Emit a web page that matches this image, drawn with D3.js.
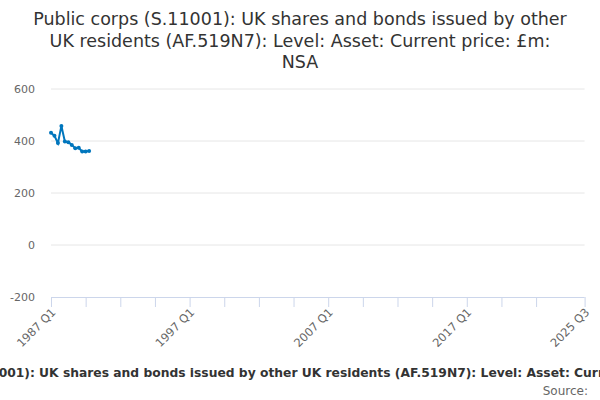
<!DOCTYPE html>
<html><head><meta charset="utf-8">
<script src="https://cdn.jsdelivr.net/npm/d3@7"></script>
<style>body{margin:0;background:#fff}svg{display:block;font-family:"DejaVu Sans",sans-serif}</style>
</head><body><svg id="c" width="600" height="400"></svg>
<script>
const titleLines = ["Public corps (S.11001): UK shares and bonds issued by other","UK residents (AF.519N7): Level: Asset: Current price: £m:","NSA"];
const subtitle = "Public corps (S.11001): UK shares and bonds issued by other UK residents (AF.519N7): Level: Asset: Current price: £m: NSA";
const sourceText = "Source:";
// all quarters 1987 Q1 .. 2025 Q3
const quarters = [];
for (let y = 1987; y <= 2025; y++) for (let q = 1; q <= 4; q++) { if (y === 2025 && q > 3) break; quarters.push(y + " Q" + q); }
const dataQuarters = ["1987 Q1","1987 Q2","1987 Q3","1987 Q4","1988 Q1","1988 Q2","1988 Q3","1988 Q4","1989 Q1","1989 Q2","1989 Q3","1989 Q4"];
const values = [432, 420, 392, 458, 398, 395, 385, 372, 374, 360, 360, 362];
const yTicks = [-200, 0, 200, 400, 600];
const labelQuarters = ["1987 Q1","1997 Q1","2007 Q1","2017 Q1","2025 Q3"];

const svg = d3.select("#c");
const x = d3.scalePoint().domain(quarters).range([51, 584.6]);
const y = d3.scaleLinear().domain([-200, 600]).range([297, 89]);

// title
svg.append("g").selectAll("text").data(titleLines).join("text")
  .attr("x", 300).attr("y", (d, i) => 25 + i * 21.5).attr("text-anchor", "middle")
  .attr("font-size", 17.5).attr("fill", "#333").text(d => d);

// grid
svg.append("g").selectAll("line").data(yTicks.filter(d => d !== -200)).join("line")
  .attr("x1", 51).attr("x2", 584.6).attr("y1", d => y(d)).attr("y2", d => y(d))
  .attr("stroke", "#e6e6e6").attr("stroke-width", 1);
svg.append("g").selectAll("text").data(yTicks).join("text")
  .attr("x", 35).attr("y", d => y(d) + 4).attr("text-anchor", "end")
  .attr("font-size", 11).attr("fill", "#666").text(d => d);

// x axis
const tickQ = quarters.filter((d, i) => i % 10 === 0 && i <= 140).concat([quarters[quarters.length - 1]]);
const xAxis = d3.axisBottom(x).tickValues(tickQ).tickSize(10).tickFormat(d => labelQuarters.includes(d) ? d : "");
const gx = svg.append("g").attr("transform", "translate(0,297)").call(xAxis);
gx.select(".domain").attr("stroke", "#ccd6eb").attr("d", "M51,0.5H584.6");
gx.selectAll(".tick line").attr("stroke", "#ccd6eb");
gx.selectAll(".tick text").attr("font-size", 11.5).attr("fill", "#666").attr("font-family", "DejaVu Sans")
  .attr("text-anchor", "end").attr("dy", null).attr("y", 0)
  .attr("transform", "translate(5,16) rotate(-45)");

// line
const pts = dataQuarters.map((q, i) => ({q, v: values[i]}));
svg.append("path").datum(pts)
  .attr("d", d3.line().x(d => x(d.q)).y(d => y(d.v)))
  .attr("fill", "none").attr("stroke", "#0076bd").attr("stroke-width", 2);
svg.append("g").selectAll("circle").data(pts).join("circle")
  .attr("cx", d => x(d.q)).attr("cy", d => y(d.v)).attr("r", 2).attr("fill", "#0076bd");

// bottom texts
svg.append("text").attr("x", 304).attr("y", 377).attr("text-anchor", "middle")
  .attr("font-size", 12.3).attr("font-weight", "bold").attr("fill", "#333").text(subtitle);
svg.append("text").attr("x", 588).attr("y", 395).attr("text-anchor", "end")
  .attr("font-size", 12).attr("fill", "#666").text(sourceText);
</script></body></html>
